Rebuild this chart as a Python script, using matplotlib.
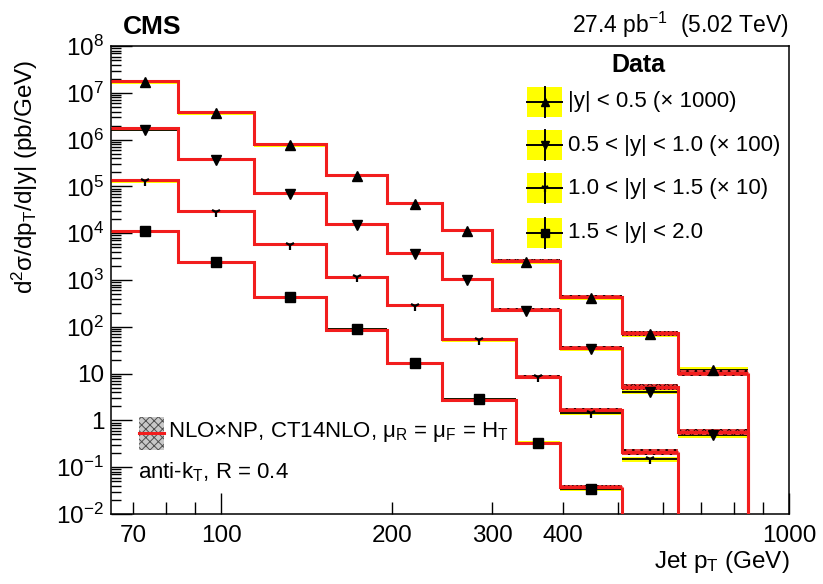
import numpy as np
import matplotlib.pyplot as plt
from matplotlib.patches import Rectangle
from matplotlib.lines import Line2D
from matplotlib.ticker import FixedLocator, FixedFormatter, LogLocator, NullFormatter

plt.rcParams['font.family'] = ['Liberation Sans', 'DejaVu Sans']
plt.rcParams['mathtext.fontset'] = 'custom'
plt.rcParams['mathtext.rm'] = 'Liberation Sans'
plt.rcParams['mathtext.it'] = 'Liberation Sans:italic'
plt.rcParams['mathtext.bf'] = 'Liberation Sans:bold'
plt.rcParams['mathtext.default'] = 'regular'
plt.rcParams['hatch.linewidth'] = 0.7

#######################################################################
"""Binning and cross sections per |y| slice (pb/GeV, unscaled)"""
#######################################################################
edges_y0 = [64, 84, 114, 153, 196, 245, 300, 395, 507, 638, 846]
edges_y1 = [64, 84, 114, 153, 196, 245, 300, 395, 507, 638, 846]
edges_y2 = [64, 84, 114, 153, 196, 245, 330, 395, 507, 638]
edges_y3 = [64, 84, 114, 153, 196, 245, 330, 395, 507]

data_y0 = [1.7e4, 3.7e3, 760, 168, 42, 11.2, 2.45, 0.42, 0.070, 0.012]
data_y1 = [1.65e4, 3.7e3, 690, 152, 36, 10.1, 2.2, 0.33, 0.041, 0.0049]
data_y2 = [1.32e4, 2.9e3, 560, 114, 28, 5.2, 0.83, 0.145, 0.0150]
data_y3 = [1.10e4, 2.42e3, 440, 88, 17.0, 2.8, 0.33, 0.034]

theory_y0 = [1.8e4, 3.9e3, 790, 175, 43.6, 11.7, 2.55, 0.44, 0.072, 0.0105]
theory_y1 = [1.74e4, 3.85e3, 710, 157, 37, 10.4, 2.29, 0.347, 0.052, 0.00575]
theory_y2 = [1.37e4, 2.98e3, 580, 118, 29.2, 5.4, 0.86, 0.166, 0.0214]
theory_y3 = [1.13e4, 2.46e3, 427, 85.5, 16.6, 2.73, 0.324, 0.038]

# relative uncertainties: data systematics and NLOxNP theory
syst_frac = [0.08, 0.07, 0.06, 0.06, 0.06, 0.07, 0.08, 0.10, 0.12, 0.15]
theo_frac = [0.03, 0.03, 0.03, 0.04, 0.05, 0.06, 0.08, 0.10, 0.13, 0.16]

scales = [1000, 100, 10, 1]
slice_labels = ['|y| < 0.5 (\u00d7 1000)', '0.5 < |y| < 1.0 (\u00d7 100)',
                '1.0 < |y| < 1.5 (\u00d7 10)', '1.5 < |y| < 2.0']
markers = ['^', 'v', '1', 's']
msizes = [7.5, 7.5, 7, 6.5]

slices = [(edges_y0, data_y0, theory_y0), (edges_y1, data_y1, theory_y1),
          (edges_y2, data_y2, theory_y2), (edges_y3, data_y3, theory_y3)]

RED = '#f21d1d'
YEL = '#ffff00'

fig = plt.figure(figsize=(8.23, 5.84), dpi=100)
ax = fig.add_axes([0.135, 0.12, 0.824, 0.801])

for (edges, data, theo), sc, mk, ms in zip(slices, scales, markers, msizes):
    e = np.array(edges, dtype=float)
    d = np.array(data) * sc
    t = np.array(theo) * sc
    n = len(d)
    ds = np.array(syst_frac[:n])
    tu = np.array(theo_frac[:n])
    w = np.diff(e)
    c = np.sqrt(e[:-1] * e[1:])

    # data systematic band
    ax.bar(e[:-1], d * 2 * ds, bottom=d * (1 - ds), width=w, align='edge',
           color=YEL, lw=0, zorder=1)
    # data bin widths, drawn under the theory curve
    ax.hlines(d, e[:-1], e[1:], color='k', lw=1.3, zorder=1.5)
    # theory band
    ax.bar(e[:-1], t * 2 * tu, bottom=t * (1 - tu), width=w, align='edge',
           facecolor='#e84040', edgecolor='#2a0000', hatch='xxxx', lw=0, zorder=2)
    # theory central value
    ax.stairs(t, e, baseline=None, color=RED, lw=2.2, zorder=3)
    ax.vlines(e[-1], 1e-4, t[-1], color=RED, lw=2.2, zorder=3)

    ax.plot(c, d, ls='none', marker=mk, color='k', ms=ms,
            mew=1.6 if mk == '1' else 1.0, zorder=4)

ax.set_xscale('log')
ax.set_yscale('log')
ax.set_xlim(64, 1000)
ax.set_ylim(1e-2, 1e8)

# axis ticks and labels
ax.xaxis.set_major_locator(FixedLocator([100, 1000]))
ax.xaxis.set_major_formatter(FixedFormatter(['100', '1000']))
xminor = [70, 80, 90, 200, 300, 400, 500, 600, 700, 800, 900]
ax.xaxis.set_minor_locator(FixedLocator(xminor))
ax.xaxis.set_minor_formatter(FixedFormatter(['70', '', '', '200', '300', '400',
                                             '', '', '', '', '']))
ydec = [1e-2, 1e-1, 1, 10, 1e2, 1e3, 1e4, 1e5, 1e6, 1e7, 1e8]
ylab = ['$10^{-2}$', '$10^{-1}$', '1', '10', '$10^{2}$', '$10^{3}$', '$10^{4}$',
        '$10^{5}$', '$10^{6}$', '$10^{7}$', '$10^{8}$']
ax.yaxis.set_major_locator(FixedLocator(ydec))
ax.yaxis.set_major_formatter(FixedFormatter(ylab))
ax.yaxis.set_minor_locator(LogLocator(base=10, subs=np.arange(2, 10), numticks=20))
ax.yaxis.set_minor_formatter(NullFormatter())

ax.tick_params(axis='both', which='both', direction='in', labelsize=17.5, width=1.0)
ax.tick_params(axis='y', which='major', length=15, pad=5)
ax.tick_params(axis='y', which='minor', length=7)
ax.tick_params(axis='x', which='major', length=15, pad=8)
ax.tick_params(axis='x', which='minor', length=9, pad=8)
for s in ax.spines.values():
    s.set_linewidth(1.1)

ax.set_ylabel('d$^{2}\\sigma$/dp$_{T}$/d|y| (pb/GeV)', fontsize=17.5, loc='top')
ax.yaxis.set_label_coords(-0.105, 0.97)
ax.set_xlabel('Jet p$_{T}$ (GeV)', fontsize=17.5, loc='right')
ax.xaxis.set_label_coords(1.0, -0.075)

ax.text(0.018, 1.026, 'CMS', transform=ax.transAxes, fontsize=19, weight='bold',
        ha='left', va='baseline')
ax.text(0.9985, 1.028, '27.4 pb$^{-1}$  (5.02 TeV)', transform=ax.transAxes,
        fontsize=16.5, ha='right', va='baseline')

# data legend
ax.text(0.777, 0.959, 'Data', transform=ax.transAxes, fontsize=18, weight='bold',
        ha='center', va='center')
bx, bw, bh = 0.6136, 0.0516, 0.0641
for yc, lab, mk, ms in zip([0.881, 0.788, 0.696, 0.601], slice_labels, markers, msizes):
    ax.add_patch(Rectangle((bx, yc - bh / 2), bw, bh, transform=ax.transAxes,
                           facecolor=YEL, lw=0, zorder=5))
    ax.add_line(Line2D([bx, bx + bw], [yc, yc], transform=ax.transAxes,
                       color='k', lw=1.4, zorder=6))
    ax.add_line(Line2D([bx + bw / 2] * 2, [yc - bh / 2, yc + bh / 2],
                       transform=ax.transAxes, color='k', lw=1.4, zorder=6))
    ax.plot([bx + bw / 2], [yc], marker=mk, ms=ms * 0.85, color='k',
            mew=1.6 if mk == '1' else 1.0, transform=ax.transAxes, zorder=7)
    ax.text(0.674, yc, lab, transform=ax.transAxes, fontsize=16,
            ha='left', va='center')

# theory legend
ax.add_patch(Rectangle((0.0413, 0.137), 0.0369, 0.0705, transform=ax.transAxes,
                       facecolor='#c8c8c8', edgecolor='#505050', hatch='xxxx',
                       lw=0, zorder=5))
ax.add_line(Line2D([0.0413, 0.0782], [0.173, 0.173], transform=ax.transAxes,
                   color=RED, lw=2.2, zorder=6))
ax.text(0.084, 0.176, 'NLO\u00d7NP, CT14NLO, $\\mu_{R}$ = $\\mu_{F}$ = H$_{T}$',
        transform=ax.transAxes, fontsize=16, ha='left', va='center')
ax.text(0.040, 0.09, 'anti-k$_{T}$, R = 0.4', transform=ax.transAxes,
        fontsize=16, ha='left', va='center')

fig.savefig('out.png', dpi=100)
